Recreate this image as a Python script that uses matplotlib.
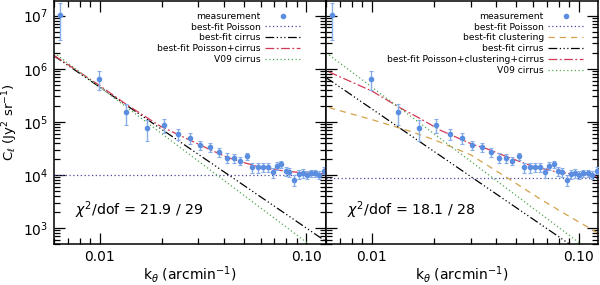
import numpy as np
import matplotlib
matplotlib.use('Agg')
import matplotlib.pyplot as plt
from matplotlib.ticker import FixedLocator, FixedFormatter, LogLocator, NullFormatter

plt.rcParams['font.family'] = ['DejaVu Sans']
plt.rcParams['mathtext.fontset'] = 'dejavusans'

# measured power spectrum
k_meas = [0.00641, 0.00989, 0.01336, 0.01687, 0.02038, 0.02381, 0.02721, 0.03066,
          0.03426, 0.03771, 0.04121, 0.04440, 0.04784, 0.05148, 0.05467, 0.05818,
          0.06151, 0.06531, 0.06874, 0.07222, 0.07571, 0.07979, 0.08279, 0.08750,
          0.09180, 0.09596, 0.10079, 0.10537, 0.11052, 0.11555, 0.12218]
c_meas = [1.05e7, 6.5e5, 1.55e5, 7.7e4, 8.8e4, 5.9e4, 5.0e4, 3.6e4,
          3.4e4, 2.7e4, 2.1e4, 2.07e4, 1.86e4, 2.28e4, 1.40e4, 1.40e4,
          1.40e4, 1.43e4, 1.12e4, 1.50e4, 1.59e4, 1.19e4, 1.12e4, 8.05e3,
          1.03e4, 1.08e4, 1.01e4, 1.08e4, 1.08e4, 1.00e4, 1.21e4]
c_err = [7e6, 2.6e5, 6.6e4, 3.3e4, 2.7e4, 1.3e4, 1.1e4, 7e3,
         6.5e3, 5e3, 4.5e3, 4e3, 3.5e3, 3.5e3, 3e3, 3e3,
         2.8e3, 2.8e3, 2.5e3, 2.5e3, 2.5e3, 2.2e3, 2.2e3, 2e3,
         2e3, 2e3, 1.8e3, 1.8e3, 1.8e3, 1.8e3, 1.8e3]

# model curves
k_ends = [0.006, 0.125]
poisson_left = [1.0e4, 1.0e4]
poisson_right = [8.9e3, 8.9e3]
cirrus_left = [1.75e6, 5.5e2]
cirrus_right = [6.8e5, 2.1e2]
v09 = [2.0e6, 2.8e2]

k_tot_left = [0.006, 0.01, 0.0134, 0.0196, 0.0236, 0.0285, 0.0344, 0.0415,
              0.05, 0.0603, 0.0726, 0.0876, 0.1, 0.125]
tot_left = [1.78e6, 4.8e5, 2.14e5, 8.3e4, 5.9e4, 4.17e4, 2.95e4, 2.14e4,
            1.70e4, 1.38e4, 1.23e4, 1.135e4, 1.085e4, 1.05e4]

k_clus = [0.0062, 0.01, 0.015, 0.02, 0.03, 0.045, 0.065, 0.09, 0.125]
clus = [1.85e5, 1.1e5, 6.8e4, 4.6e4, 2.4e4, 8.9e3, 3.55e3, 1.66e3, 7.9e2]

k_tot_right = [0.0062, 0.01, 0.0136, 0.017, 0.0215, 0.031, 0.036, 0.0448,
               0.06, 0.077, 0.1, 0.125]
tot_right = [8.7e5, 3.8e5, 1.86e5, 1.17e5, 6.9e4, 3.7e4, 3.1e4, 2.21e4,
             1.45e4, 1.16e4, 1.0e4, 9.3e3]

blue = '#5b8ee0'
ebar = '#86aeea'
navy = '#4a4aa0'
red = '#d23a55'
green = '#4fa84f'
tan = '#d4a24a'

fig, (ax1, ax2) = plt.subplots(1, 2, figsize=(6, 2.85), dpi=100, sharey=True)
fig.subplots_adjust(left=0.09, right=0.997, bottom=0.144, top=0.997, wspace=0)

dots = (0, (1, 2))
dash3dot = (0, (7, 2, 1, 2, 1, 2, 1, 2))
dashdot = (0, (7, 2, 1.5, 2))


def data(ax):
    ax.errorbar(k_meas, c_meas, yerr=c_err, fmt='none', ecolor=ebar, elinewidth=1.0,
                capsize=1.5, capthick=0.8, zorder=5)
    ax.plot(k_meas, c_meas, 'o', color=blue, ms=3.0, mec=blue, zorder=6,
            label='measurement')


data(ax1)
ax1.plot(k_ends, poisson_left, color=navy, ls=dots, lw=0.9, label='best-fit Poisson')
ax1.plot(k_ends, cirrus_left, color='black', ls=dash3dot, lw=0.9, label='best-fit cirrus')
ax1.plot(k_tot_left, tot_left, color=red, ls=dashdot, lw=0.9, label='best-fit Poisson+cirrus')
ax1.plot(k_ends, v09, color=green, ls=dots, lw=0.9, label='V09 cirrus')

data(ax2)
ax2.plot(k_ends, poisson_right, color=navy, ls=dots, lw=0.9, label='best-fit Poisson')
ax2.plot(k_clus, clus, color=tan, ls=(0, (5, 4)), lw=0.9, label='best-fit clustering')
ax2.plot(k_ends, cirrus_right, color='black', ls=dash3dot, lw=0.9, label='best-fit cirrus')
ax2.plot(k_tot_right, tot_right, color=red, ls=dashdot, lw=0.9,
         label='best-fit Poisson+clustering+cirrus')
ax2.plot(k_ends, v09, color=green, ls=dots, lw=0.9, label='V09 cirrus')

for ax in (ax1, ax2):
    ax.set_xscale('log')
    ax.set_yscale('log')
    ax.set_xlim(0.006, 0.1245)
    ax.set_ylim(500, 1.9e7)
    ax.xaxis.set_major_locator(FixedLocator([0.01, 0.1]))
    ax.xaxis.set_major_formatter(FixedFormatter(['0.01', '0.10']))
    ax.xaxis.set_minor_locator(LogLocator(subs=np.arange(2, 10)))
    ax.xaxis.set_minor_formatter(NullFormatter())
    ax.yaxis.set_minor_locator(LogLocator(subs=np.arange(2, 10), numticks=20))
    ax.yaxis.set_minor_formatter(NullFormatter())
    ax.tick_params(which='both', direction='in', top=True, right=True, width=0.9)
    ax.tick_params(which='major', length=8, labelsize=10, pad=4)
    ax.tick_params(which='minor', length=4)
    for s in ax.spines.values():
        s.set_linewidth(1.1)
    ax.set_xlabel(r'k$_\theta$ (arcmin$^{-1}$)', fontsize=10, labelpad=0)

ax2.tick_params(axis='y', which='both', labelleft=False)
ax1.set_ylabel(r'C$_\ell$ (Jy$^2$ sr$^{-1}$)', fontsize=9.5, labelpad=2)

ax1.text(0.077, 0.14, r'$\chi^2$/dof = 21.9 / 29', transform=ax1.transAxes, fontsize=10.2,
         va='center')
ax2.text(0.078, 0.14, r'$\chi^2$/dof = 18.1 / 28', transform=ax2.transAxes, fontsize=10.2,
         va='center')

leg_kw = dict(loc='upper right', frameon=False, fontsize=6.6, markerfirst=False,
              numpoints=1, handlelength=3.8, handletextpad=0.5, labelspacing=0.2,
              borderaxespad=0, borderpad=0)
ax1.legend(bbox_to_anchor=(0.905, 0.955), **leg_kw)
ax2.legend(bbox_to_anchor=(0.945, 0.955), **leg_kw)

fig.savefig('out.png', dpi=100)
